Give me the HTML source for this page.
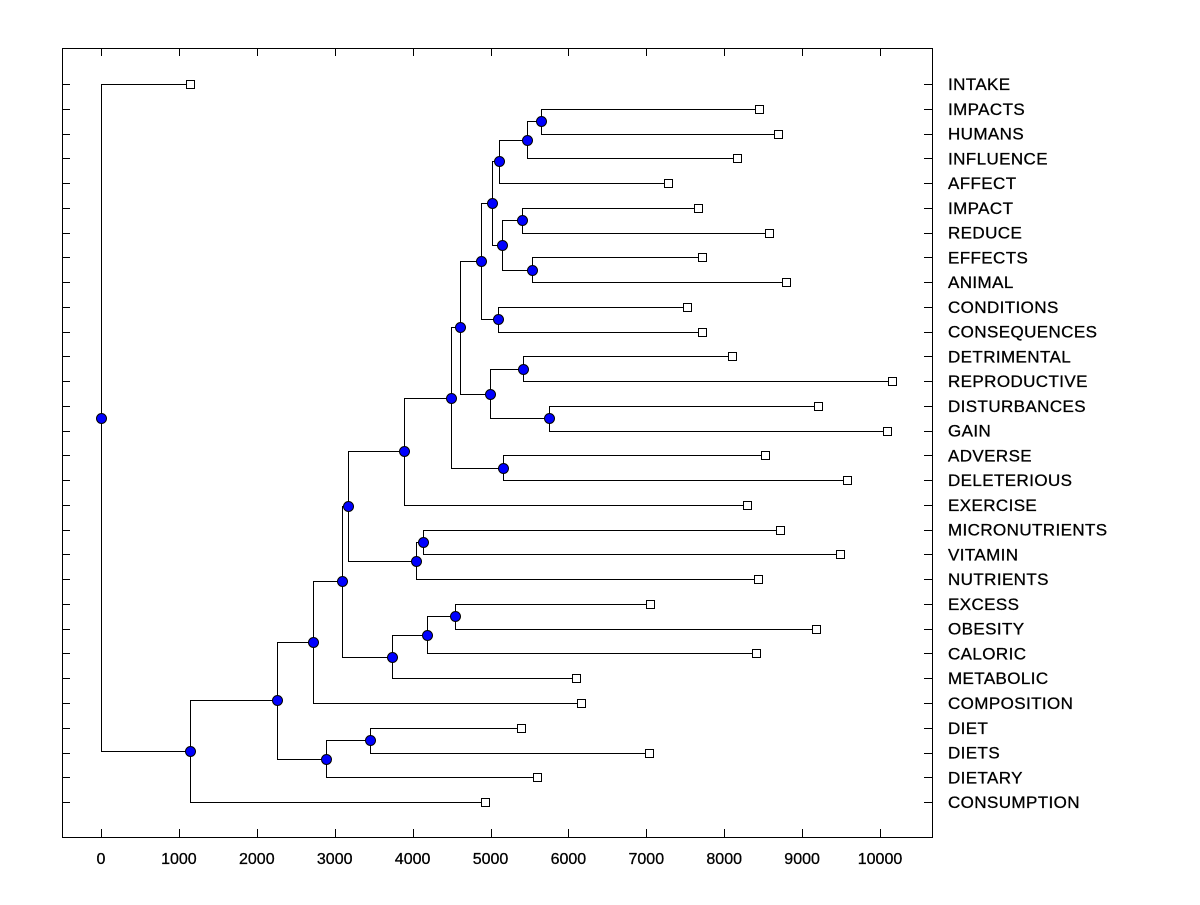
<!DOCTYPE html>
<html><head><meta charset="utf-8"><style>
body{margin:0;background:#fff;}
svg text{font-family:"Liberation Sans",Arial,sans-serif;fill:#000;}
</style></head><body>
<svg id="c" width="1200" height="900" xmlns="http://www.w3.org/2000/svg"></svg>
<script>
const labels=["INTAKE","IMPACTS","HUMANS","INFLUENCE","AFFECT","IMPACT","REDUCE","EFFECTS","ANIMAL","CONDITIONS","CONSEQUENCES","DETRIMENTAL","REPRODUCTIVE","DISTURBANCES","GAIN","ADVERSE","DELETERIOUS","EXERCISE","MICRONUTRIENTS","VITAMIN","NUTRIENTS","EXCESS","OBESITY","CALORIC","METABOLIC","COMPOSITION","DIET","DIETS","DIETARY","CONSUMPTION"];
const leafValues=[1142,8447,8690,8164,7279,7664,8575,7715,8793,7522,7715,8100,10154,9204,10090,8524,9576,8293,8716,9487,8434,7048,9178,8408,6098,6162,5392,7035,5597,4929];
// nodes: name, left child, right child, merge value
const nodeNames=["AB","AA","W","Y","Z","X","U","V","Q","S","T","R","O","P","N","K","M","L","G","J","I","H","F","C","E","D","B","A","ROOT"];
const nodeLeft=[1,"AB","AA",5,7,"Y","W",9,"U",11,13,"S","Q",15,"O","N",18,"M","K",21,"J","I","G","F",26,"E","C","B",0];
const nodeRight=[2,3,4,6,8,"Z","X",10,"V",12,14,"T","R",16,"P",17,19,20,"L",22,23,24,"H",25,27,28,"D",29,"A"];
const nodeValues=[5648,5469,5109,5404,5533,5148,5019,5096,4878,5417,5751,4994,4608,5160,4493,3890,4133,4044,3171,4544,4185,3736,3094,2721,3453,2888,2259,1142,0];
const xTicks=[0,1000,2000,3000,4000,5000,6000,7000,8000,9000,10000];

const svg=document.getElementById('c');
const NS='http://www.w3.org/2000/svg';
const L=62,R=932,T=48,B=837;
const X=v=>101+v*0.0779;
const Y=i=>84+i*24.76;
function mk(t,a,p){const e=document.createElementNS(NS,t);for(const k in a)e.setAttribute(k,a[k]);(p||svg).appendChild(e);return e;}
const frame=mk('rect',{x:L+.5,y:T+.5,width:R-L,height:B-T,fill:'none',stroke:'#000','stroke-width':1});


const gt=mk('g',{});


xTicks.forEach(v=>{
  const x=Math.round(X(v))+.5;
  mk('line',{x1:x,x2:x,y1:B,y2:B-8,stroke:'#000'},gt);
  mk('line',{x1:x,x2:x,y1:T,y2:T+8,stroke:'#000'},gt);
  const t=mk('text',{x:X(v),y:864,'font-size':16,'text-anchor':'middle','stroke':'#000','stroke-width':0.3},gt);t.textContent=v;
  
  
});
const gl=mk('g',{});


labels.forEach((s,i)=>{
  const y=Math.round(Y(i))+.5;
  mk('line',{x1:L,x2:L+8,y1:y,y2:y,stroke:'#000'},gl);
  mk('line',{x1:R-8,x2:R,y1:y,y2:y,stroke:'#000'},gl);
  const t=mk('text',{x:948,y:Y(i)+6,'font-size':17,'stroke':'#000','stroke-width':0.3,'textLength':0},gl);
  t.removeAttribute('textLength');
  t.textContent=s;
  t.setAttribute('letter-spacing','0.4');
  
  
});
// compute positions
const pos={};
leafValues.forEach((v,i)=>pos[i]={x:X(v),y:Y(i)});
nodeNames.forEach((n,k)=>{
  const a=pos[nodeLeft[k]],b=pos[nodeRight[k]];
  pos[n]={x:X(nodeValues[k]),y:(a.y+b.y)/2};
});
const gb=mk('g',{});


nodeNames.forEach((n,k)=>{
  const p=pos[n];
  [nodeLeft[k],nodeRight[k]].forEach(c=>{
    const q=pos[c];
    const px=Math.round(p.x)+.5,py=Math.round(p.y)+.5,qx=Math.round(q.x)+.5,qy=Math.round(q.y)+.5;
    mk('polyline',{points:`${px},${py} ${px},${qy} ${qx},${qy}`,fill:'none',stroke:'#000','stroke-width':1},gb);
  });
});
leafValues.forEach((v,i)=>{
  const p=pos[i];
  const r=mk('rect',{x:Math.round(p.x)-3.5,y:Math.round(p.y)-3.5,width:8,height:8,fill:'#fff',stroke:'#000'});
  
  
});
nodeNames.forEach(n=>{
  const p=pos[n];
  const c=mk('circle',{cx:Math.round(p.x)+.5,cy:Math.round(p.y)+.5,r:5,fill:'#0000ff',stroke:'#000'});
  
  
});
</script>
</body></html>
